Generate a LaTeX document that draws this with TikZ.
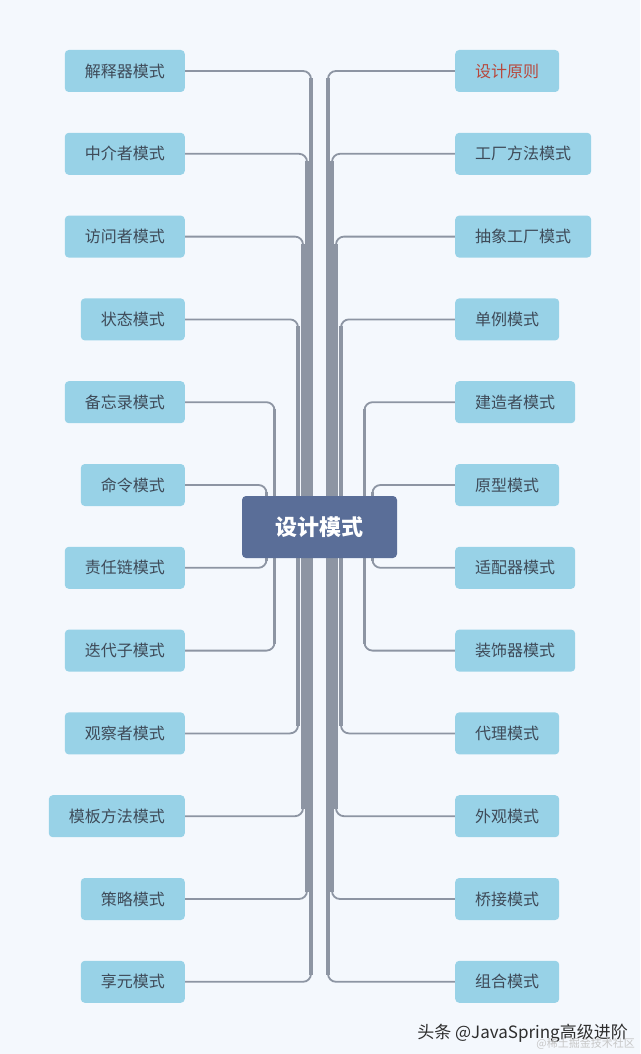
\documentclass[tikz,border=0pt]{standalone}
\usepackage{fontspec}
\setmainfont{Liberation Sans}
\newfontfamily\cjk{Noto Sans CJK SC}
\usetikzlibrary{calc}
\definecolor{bgcol}{HTML}{F4F8FD}
\definecolor{leafblue}{HTML}{98D2E7}
\definecolor{leaftext}{HTML}{3E4A58}
\definecolor{linegray}{HTML}{8D95A3}
\definecolor{rootblue}{HTML}{5A6E98}
\definecolor{redtext}{HTML}{B8473B}
\pgfdeclarelayer{bg}
\pgfdeclarelayer{lines}
\pgfsetlayers{bg,lines,main}
\begin{document}
\begin{tikzpicture}[x=1pt,y=-1pt,
  leaf/.style={fill=leafblue, rounded corners=4pt, minimum height=42pt, inner xsep=20pt, inner ysep=0pt,
    font=\cjk\fontsize{16}{19}\selectfont, text=leaftext},
  rootbox/.style={fill=rootblue, rounded corners=4pt, minimum width=155pt, minimum height=62pt,
    font=\cjk\bfseries\fontsize{22}{26}\selectfont, text=white},
  conn/.style={draw=linegray, line width=1.8pt, rounded corners=8pt},
  connthick/.style={draw=linegray, line width=3.6pt}]
\begin{pgfonlayer}{bg}
  \fill[bgcol] (0,0) rectangle (640,1054);
\end{pgfonlayer}
\useasboundingbox (0,0) rectangle (640,1054);

\node[rootbox] (root) at (319.5,527) {设计模式};

\foreach \i/\t in {1/解释器模式,2/中介者模式,3/访问者模式,4/状态模式,5/备忘录模式,6/命令模式,
  7/责任链模式,8/迭代子模式,9/观察者模式,10/模板方法模式,11/策略模式,12/享元模式}
  \node[leaf, anchor=east] (L\i) at (185,{71+(\i-1)*82.8}) {\t};

\foreach \i/\t in {2/工厂方法模式,3/抽象工厂模式,4/单例模式,5/建造者模式,6/原型模式,
  7/适配器模式,8/装饰器模式,9/代理模式,10/外观模式,11/桥接模式,12/组合模式}
  \node[leaf, anchor=west] (R\i) at (455,{71+(\i-1)*82.8}) {\t};
\node[leaf, anchor=west, text=redtext] (R1) at (455,71) {设计原则};

\begin{pgfonlayer}{lines}
  \foreach \i/\dx in {1/8.5,2/12.5,3/16.5,4/21.5,5/45,6/53,7/53,8/45,9/21.5,10/16.5,11/12.5,12/8.5} {
    \coordinate (la) at ($(root.center)+(-\dx,0)$);
    \coordinate (lb) at (la |- L\i.east);
    \draw[conn] (la) |- (L\i.east);
    \draw[connthick] (la) -- ($(lb)!7pt!(la)$);
    \coordinate (ra) at ($(root.center)+(\dx,0)$);
    \coordinate (rb) at (ra |- R\i.west);
    \draw[conn] (ra) |- (R\i.west);
    \draw[connthick] (ra) -- ($(rb)!7pt!(ra)$);
  }
\end{pgfonlayer}

\node[anchor=east, font=\cjk\fontsize{17}{20}\selectfont, text=black!82, inner sep=0pt] (wm) at (628,1033) {头条 @JavaSpring高级进阶};
\node[anchor=east, font=\cjk\fontsize{11}{13}\selectfont, text=black!22, inner sep=0pt] (wm2) at (635,1044) {@稀土掘金技术社区};
\end{tikzpicture}
\end{document}
